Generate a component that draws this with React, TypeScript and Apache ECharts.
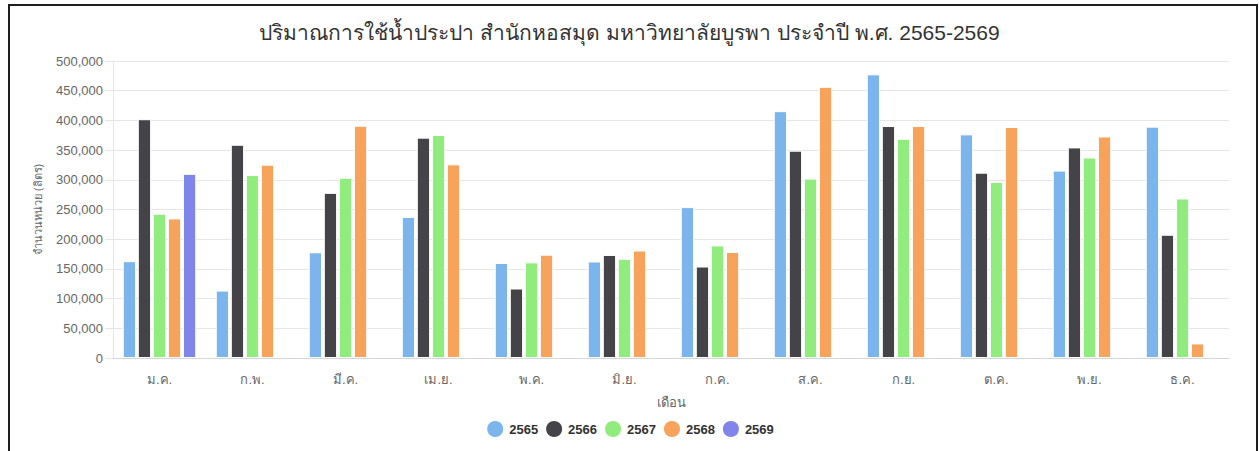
import React, { useEffect, useRef } from "react";
import * as echarts from "echarts";

const titleText = "ปริมาณการใช้น้ำประปา สำนักหอสมุด มหาวิทยาลัยบูรพา ประจำปี พ.ศ. 2565-2569";
const months = ["ม.ค.", "ก.พ.", "มี.ค.", "เม.ย.", "พ.ค.", "มิ.ย.", "ก.ค.", "ส.ค.", "ก.ย.", "ต.ค.", "พ.ย.", "ธ.ค."];
const years = ["2565", "2566", "2567", "2568", "2569"];
const colors = ["#7cb5ec", "#434348", "#90ed7d", "#f7a35c", "#8085e9"];

const y2565 = [163000, 113500, 178000, 237500, 160000, 162500, 254000, 415500, 477500, 376500, 315500, 389500];
const y2566 = [402000, 359000, 278000, 371000, 117000, 173500, 154000, 349000, 390500, 312000, 354500, 207500];
const y2567 = [243000, 308000, 303500, 375500, 161000, 167000, 189500, 302000, 369000, 296500, 337500, 268500];
const y2568 = [235000, 325500, 391000, 326000, 174000, 181000, 178500, 456500, 390500, 389000, 373000, 24500];
const y2569 = [310000, null, null, null, null, null, null, null, null, null, null, null];

const seriesValues = [y2565, y2566, y2567, y2568, y2569];

const yAxisName = "จำนวนหน่วย (ลิตร)";
const xAxisName = "เดือน";

const FONT = "'Liberation Sans', Arial, sans-serif";

export default function App() {
  const ref = useRef<HTMLDivElement>(null);
  useEffect(() => {
    if (!ref.current) return;
    const chart = echarts.init(ref.current, null, { renderer: "svg" });
    chart.setOption({
      animation: false,
      backgroundColor: "#ffffff",
      textStyle: { fontFamily: FONT },
      title: {
        text: titleText,
        left: "center",
        top: 17,
        textStyle: { fontSize: 21, fontWeight: "normal", color: "#333333", fontFamily: FONT },
      },
      legend: {
        bottom: 7,
        left: "center",
        icon: "circle",
        itemWidth: 18,
        itemHeight: 18,
        itemGap: 6,
        data: years,
        textStyle: { fontSize: 13, fontWeight: "bold", color: "#333333", fontFamily: FONT },
      },
      grid: { left: 113, right: 30, top: 61, bottom: 93, containLabel: false },
      xAxis: {
        type: "category",
        data: months,
        name: xAxisName,
        nameLocation: "middle",
        nameGap: 38,
        nameTextStyle: { color: "#666666", fontSize: 13 },
        axisLine: { lineStyle: { color: "#d6d6d6" } },
        axisTick: { show: false },
        axisLabel: { color: "#666666", fontSize: 13, margin: 15 },
      },
      yAxis: {
        type: "value",
        min: 0,
        max: 500000,
        interval: 50000,
        name: yAxisName,
        nameLocation: "middle",
        nameGap: 70,
        nameTextStyle: { color: "#666666", fontSize: 11 },
        axisLine: { show: true, lineStyle: { color: "#e6e6e6" } },
        axisTick: { show: true, length: 8, lineStyle: { color: "#e6e6e6" } },
        splitLine: { lineStyle: { color: "#e6e6e6" } },
        axisLabel: {
          color: "#666666",
          fontSize: 13,
          margin: 10,
          formatter: (v: number) => v.toLocaleString("en-US"),
        },
      },
      series: years.map((y, i) => ({
        name: y,
        type: "bar",
        data: seriesValues[i],
        barGap: "13%",
        barCategoryGap: "21%",
        itemStyle: { color: colors[i], borderColor: "#ffffff", borderWidth: 1 },
      })),
    });
    return () => chart.dispose();
  }, []);
  return (
    <div style={{ position: "fixed", left: 0, top: 0, width: 1259, height: 451, background: "#fff" }}>
      <div ref={ref} style={{ position: "absolute", left: 0, top: 0, width: 1259, height: 451 }} />
      <div
        style={{
          position: "absolute",
          left: 8,
          top: 4,
          width: 1250,
          height: 460,
          boxSizing: "border-box",
          borderLeft: "2px solid #1e1e1e",
          borderTop: "2px solid #1e1e1e",
          borderRight: "2px solid #1e1e1e",
          pointerEvents: "none",
        }}
      />
    </div>
  );
}
